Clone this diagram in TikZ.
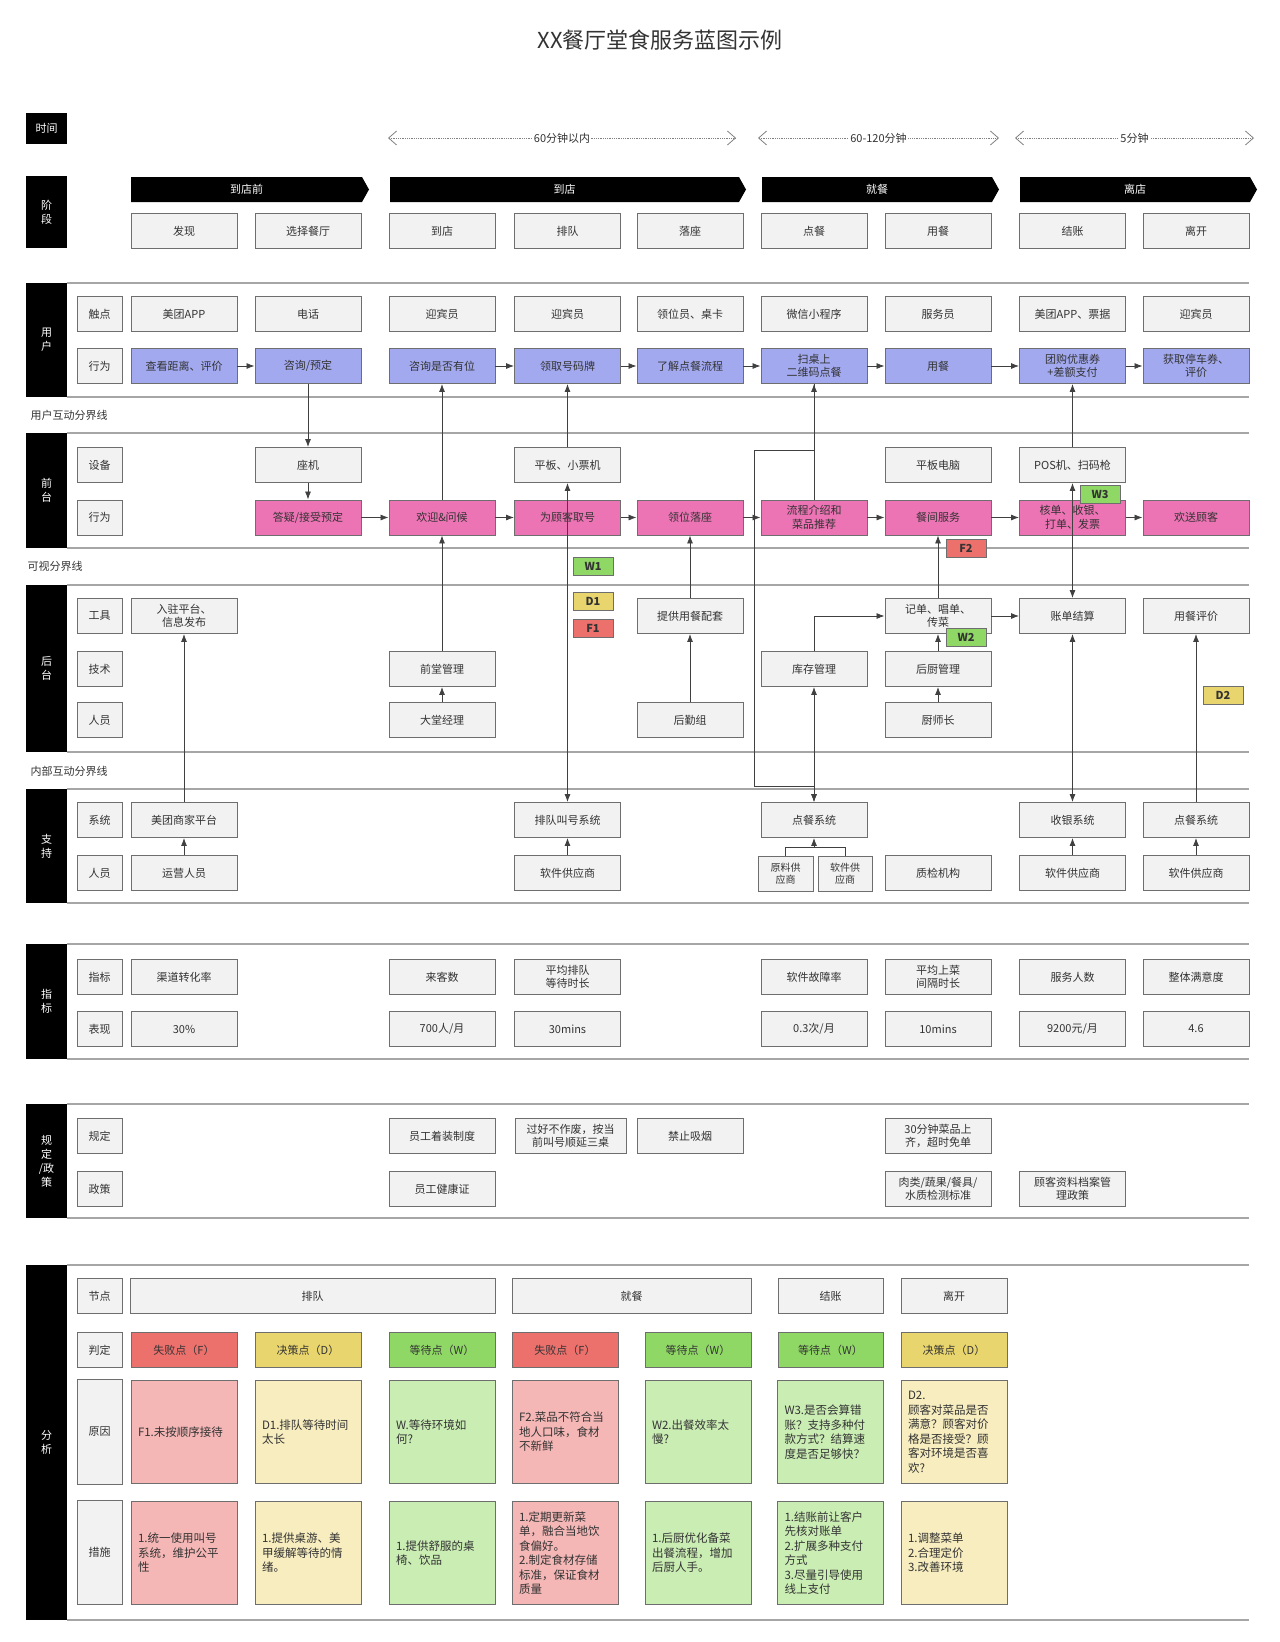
\documentclass[tikz,border=0pt]{standalone}
\usepackage{fontspec}
\setmainfont{Noto Sans CJK SC}
\usetikzlibrary{arrows.meta}
\definecolor{boxfill}{HTML}{F2F2F2}
\definecolor{boxline}{HTML}{6E6E6E}
\definecolor{txtc}{HTML}{333333}
\definecolor{userc}{HTML}{A2A9EF}
\definecolor{frontc}{HTML}{EC73B4}
\definecolor{failc}{HTML}{EC716D}
\definecolor{decc}{HTML}{E9D56E}
\definecolor{waitc}{HTML}{90D866}
\definecolor{failsoft}{HTML}{F4B7B6}
\definecolor{decsoft}{HTML}{F7EDBF}
\definecolor{waitsoft}{HTML}{CAEDB4}
\definecolor{bandc}{HTML}{A6A6A6}
\definecolor{arrowc}{HTML}{404040}
\begin{document}
\begin{tikzpicture}[x=1pt, y=-1pt,
    every node/.style = {text=txtc, font=\fontsize{11}{13.5}\selectfont},
    box/.style = {draw=boxline, fill=boxfill, line width=0.9pt, minimum width=106pt,
                  minimum height=35pt, inner sep=1pt, align=center},
    head/.style = {box, minimum width=45pt},
    userbox/.style = {box, fill=userc},
    frontbox/.style = {box, fill=frontc},
    smallbox/.style = {box, minimum width=54pt, font=\fontsize{10}{12}\selectfont},
    flag/.style = {draw=boxline, line width=0.9pt, minimum width=40pt, minimum height=18pt,
                   inner sep=0pt, font=\bfseries\fontsize{11}{13}\selectfont},
    note/.style = {box, minimum height=103pt, text width=92pt, align=left, inner xsep=7pt,
                   font=\fontsize{11.5}{14.5}\selectfont},
    barlabel/.style = {text=white, align=center, font=\fontsize{11}{14}\selectfont},
    bandline/.style = {draw=bandc, line width=1.5pt},
    arr/.style = {draw=arrowc, line width=0.8pt, -{Latex[length=8pt,width=6pt]}},
    darr/.style = {draw=arrowc, line width=0.8pt, {Latex[length=8pt,width=6pt]}-{Latex[length=8pt,width=6pt]}},
    timespan/.style = {draw=gray, densely dotted, line width=0.8pt,
                   {Straight Barb[length=8pt,width=14pt]}-{Straight Barb[length=8pt,width=14pt]}},
    spanlabel/.style = {fill=white, inner sep=1pt}
  ]
  \useasboundingbox (0,0) rectangle (1280,1642);

  % title
  \node[font=\fontsize{22}{26}\selectfont] (title) at (660,40) {XX餐厅堂食服务蓝图示例};

  % time
  \fill (26,113) rectangle (67,144);
  \node[barlabel] (bar-time) at (46.5,128.5) {时间};
  \coordinate (t1a) at (388,138);
  \coordinate (t1b) at (736,138);
  \coordinate (t2a) at (758,138);
  \coordinate (t2b) at (999,138);
  \coordinate (t3a) at (1015,138);
  \coordinate (t3b) at (1254,138);
  \draw[timespan] (t1a) -- node[spanlabel] (t1) {60分钟以内} (t1b);
  \draw[timespan] (t2a) -- node[spanlabel] (t2) {60-120分钟} (t2b);
  \draw[timespan] (t3a) -- node[spanlabel] (t3) {5分钟} (t3b);

  % stages
  \fill (26,176) rectangle (67,248);
  \node[barlabel] (bar-stage) at (46.5,212) {阶\\段};
  \foreach \xa/\xb/\lab/\nm in {131/369/到店前/pre, 390/746/到店/arrive, 762/999/就餐/dine, 1020/1257/离店/leave} {
    \fill (\xa,177) -- ({\xb-7},177) -- (\xb,189.5) -- ({\xb-7},202) -- (\xa,202) -- cycle;
    \node[barlabel] (ph-\nm) at ({(\xa+\xb-7)/2},189.5) {\lab};
  }
  \node[box] (st-1) at (184,231) {发现};
  \node[box] (st-2) at (308,231) {选择餐厅};
  \node[box] (st-3) at (442,231) {到店};
  \node[box] (st-4) at (567.5,231) {排队};
  \node[box] (st-5) at (690,231) {落座};
  \node[box] (st-6) at (814,231) {点餐};
  \node[box] (st-7) at (938,231) {用餐};
  \node[box] (st-8) at (1072.5,231) {结账};
  \node[box] (st-9) at (1196,231) {离开};

  % bands
  \foreach \ya/\yb/\lab/\nm in {283/397/{用\\户}/user, 433/548/{前\\台}/front, 585/752/{后\\台}/back,
      789/903/{支\\持}/support, 944/1059/{指\\标}/metric, 1104/1218/{规\\定\\/政\\策}/rule, 1265/1620/{分\\析}/analysis} {
    \fill (26,\ya) rectangle (67,\yb);
    \draw[bandline] (67,\ya) -- (1249,\ya) (67,\yb) -- (1249,\yb);
    \node[barlabel] (bar-\nm) at (46.5,{(\ya+\yb)/2}) {\lab};
  }
  \node[anchor=west] (line-user) at (27,415) {用户互动分界线};
  \node[anchor=west] (line-see) at (24,566) {可视分界线};
  \node[anchor=west] (line-inner) at (27,771) {内部互动分界线};

  % row heads
  \foreach \yy/\lab/\nm in {314/触点/touch, 366/行为/uact, 465/设备/dev, 517.5/行为/fact, 616/工具/tool,
      669/技术/tech, 720/人员/staff, 820/系统/sys, 873/人员/sstaff, 977/指标/kpi, 1029/表现/perf,
      1136/规定/rule, 1189/政策/policy, 1296/节点/node, 1350/判定/judge}
    \node[head] (h-\nm) at (99.5,\yy) {\lab};
  \node[head, minimum height=105pt] (h-cause) at (99.5,1432) {原因};
  \node[head, minimum height=104pt] (h-measure) at (99.5,1552) {措施};

  % user touchpoints
  \node[box] (ut-1) at (184,314) {美团APP};
  \node[box] (ut-2) at (308,314) {电话};
  \node[box] (ut-3) at (442,314) {迎宾员};
  \node[box] (ut-4) at (567.5,314) {迎宾员};
  \node[box] (ut-5) at (690,314) {领位员、桌卡};
  \node[box] (ut-6) at (814,314) {微信小程序};
  \node[box] (ut-7) at (938,314) {服务员};
  \node[box] (ut-8) at (1072.5,314) {美团APP、票据};
  \node[box] (ut-9) at (1196,314) {迎宾员};

  % user actions
  \node[userbox] (ua-chakan) at (184,366) {查看距离、评价};
  \node[userbox] (ua-zixun) at (308,366) {咨询/预定};
  \node[userbox] (ua-youwei) at (442,366) {咨询是否有位};
  \node[userbox] (ua-lingqu) at (567.5,366) {领取号码牌};
  \node[userbox] (ua-liaojie) at (690,366) {了解点餐流程};
  \node[userbox] (ua-saoma) at (814,366) {扫桌上\\二维码点餐};
  \node[userbox] (ua-yongcan) at (938,366) {用餐};
  \node[userbox] (ua-tuangou) at (1072.5,366) {团购优惠券\\+差额支付};
  \node[userbox] (ua-tingche) at (1196,366) {获取停车券、\\评价};

  % front devices
  \node[box] (fd-zuoji) at (308,465) {座机};
  \node[box] (fd-pingban) at (567.5,465) {平板、小票机};
  \node[box] (fd-diannao) at (938,465) {平板电脑};
  \node[box] (fd-pos) at (1072.5,465) {POS机、扫码枪};

  % front actions
  \node[frontbox] (fa-dayi) at (308,517.5) {答疑/接受预定};
  \node[frontbox] (fa-huanying) at (442,517.5) {欢迎\&问候};
  \node[frontbox] (fa-quhao) at (567.5,517.5) {为顾客取号};
  \node[frontbox] (fa-luozuo) at (690,517.5) {领位落座};
  \node[frontbox] (fa-liucheng) at (814,517.5) {流程介绍和\\菜品推荐};
  \node[frontbox] (fa-canjian) at (938,517.5) {餐间服务};
  \node[frontbox] (fa-hedan) at (1072.5,517.5) {核单、收银、\\打单、发票};
  \node[frontbox] (fa-huansong) at (1196,517.5) {欢送顾客};

  % backstage
  \node[box] (bk-ruzhu) at (184,616) {入驻平台、\\信息发布};
  \node[box] (bk-peitao) at (690,616) {提供用餐配套};
  \node[box] (bk-jidan) at (938,616) {记单、唱单、\\传菜};
  \node[box] (bk-zhangdan) at (1072.5,616) {账单结算};
  \node[box] (bk-pingjia) at (1196,616) {用餐评价};
  \node[box] (bk-qiantang) at (442,669) {前堂管理};
  \node[box] (bk-kucun) at (814,669) {库存管理};
  \node[box] (bk-houchu) at (938,669) {后厨管理};
  \node[box] (bk-datang) at (442,720) {大堂经理};
  \node[box] (bk-houqin) at (690,720) {后勤组};
  \node[box] (bk-chushi) at (938,720) {厨师长};

  % support
  \node[box] (sp-meituan) at (184,820) {美团商家平台};
  \node[box] (sp-paidui) at (567.5,820) {排队叫号系统};
  \node[box] (sp-diancan) at (814,820) {点餐系统};
  \node[box] (sp-shouyin) at (1072.5,820) {收银系统};
  \node[box] (sp-diancan9) at (1196,820) {点餐系统};
  \node[box] (sp-yunying) at (184,873) {运营人员};
  \node[box] (sp-soft4) at (567.5,873) {软件供应商};
  \node[smallbox, minimum width=55pt] (sp-yuanliao) at (785.5,873.5) {原料供\\应商};
  \node[smallbox] (sp-soft6) at (845,873.5) {软件供\\应商};
  \node[box] (sp-zhijian) at (938,873) {质检机构};
  \node[box] (sp-soft8) at (1072.5,873) {软件供应商};
  \node[box] (sp-soft9) at (1196,873) {软件供应商};

  % metrics
  \node[box] (km-1) at (184,977) {渠道转化率};
  \node[box] (km-3) at (442,977) {来客数};
  \node[box] (km-4) at (567.5,977) {平均排队\\等待时长};
  \node[box] (km-6) at (814,977) {软件故障率};
  \node[box] (km-7) at (938,977) {平均上菜\\间隔时长};
  \node[box] (km-8) at (1072.5,977) {服务人数};
  \node[box] (km-9) at (1196,977) {整体满意度};
  \node[box] (kv-1) at (184,1029) {30\%};
  \node[box] (kv-3) at (442,1029) {700人/月};
  \node[box] (kv-4) at (567.5,1029) {30mins};
  \node[box] (kv-6) at (814,1029) {0.3次/月};
  \node[box] (kv-7) at (938,1029) {10mins};
  \node[box] (kv-8) at (1072.5,1029) {9200元/月};
  \node[box] (kv-9) at (1196,1029) {4.6};

  % rules and policies
  \node[box] (rl-3) at (442,1136) {员工着装制度};
  \node[box, minimum width=111pt] (rl-4) at (570.5,1136) {过好不作废，按当\\前叫号顺延三桌};
  \node[box] (rl-5) at (690,1136) {禁止吸烟};
  \node[box] (rl-7) at (938,1136) {30分钟菜品上\\齐，超时免单};
  \node[box] (pl-3) at (442,1189) {员工健康证};
  \node[box] (pl-7) at (938,1189) {肉类/蔬果/餐具/\\水质检测标准};
  \node[box] (pl-8) at (1072.5,1189) {顾客资料档案管\\理政策};

  % analysis
  \node[box, minimum width=365pt] (an-paidui) at (312.5,1296) {排队};
  \node[box, minimum width=239pt] (an-jiucan) at (631.5,1296) {就餐};
  \node[box, minimum width=105pt] (an-jiezhang) at (830.5,1296) {结账};
  \node[box] (an-likai) at (954,1296) {离开};

  \node[box, fill=failc] (jd-1) at (184,1350) {失败点（F）};
  \node[box, fill=decc] (jd-2) at (308,1350) {决策点（D）};
  \node[box, fill=waitc] (jd-3) at (442,1350) {等待点（W）};
  \node[box, fill=failc] (jd-4) at (565,1350) {失败点（F）};
  \node[box, fill=waitc] (jd-5) at (698,1350) {等待点（W）};
  \node[box, fill=waitc, minimum width=105pt] (jd-6) at (830.5,1350) {等待点（W）};
  \node[box, fill=decc] (jd-7) at (954,1350) {决策点（D）};

  \node[note, fill=failsoft] (cs-1) at (184,1432) {F1.未按顺序接待};
  \node[note, fill=decsoft] (cs-2) at (308,1432) {D1.排队等待时间\\太长};
  \node[note, fill=waitsoft] (cs-3) at (442,1432) {W.等待环境如\\何?};
  \node[note, fill=failsoft] (cs-4) at (565,1432) {F2.菜品不符合当\\地人口味，食材\\不新鲜};
  \node[note, fill=waitsoft] (cs-5) at (698,1432) {W2.出餐效率太\\慢?};
  \node[note, fill=waitsoft] (cs-6) at (830.5,1432) {W3.是否会算错\\账？支持多种付\\款方式？结算速\\度是否足够快？};
  \node[note, fill=decsoft] (cs-7) at (954,1432) {D2.\\顾客对菜品是否\\满意？顾客对价\\格是否接受？顾\\客对环境是否喜\\欢?};

  \node[note, fill=failsoft] (ms-1) at (184,1553) {1.统一使用叫号\\系统，维护公平\\性};
  \node[note, fill=decsoft] (ms-2) at (308,1553) {1.提供桌游、美\\甲缓解等待的情\\绪。};
  \node[note, fill=waitsoft] (ms-3) at (442,1553) {1.提供舒服的桌\\椅、饮品};
  \node[note, fill=failsoft] (ms-4) at (565,1553) {1.定期更新菜\\单，融合当地饮\\食偏好。\\2.制定食材存储\\标准，保证食材\\质量};
  \node[note, fill=waitsoft] (ms-5) at (698,1553) {1.后厨优化备菜\\出餐流程，增加\\后厨人手。};
  \node[note, fill=waitsoft] (ms-6) at (830.5,1553) {1.结账前让客户\\先核对账单\\2.扩展多种支付\\方式\\3.尽量引导使用\\线上支付};
  \node[note, fill=decsoft] (ms-7) at (954,1553) {1.调整菜单\\2.合理定价\\3.改善环境};

  % flow along the action rows
  \draw[arr] (ua-chakan) -- (ua-zixun);
  \foreach \a/\b in {ua-youwei/ua-lingqu, ua-lingqu/ua-liaojie, ua-liaojie/ua-saoma, ua-saoma/ua-yongcan,
      ua-yongcan/ua-tuangou, ua-tuangou/ua-tingche,
      fa-dayi/fa-huanying, fa-huanying/fa-quhao, fa-quhao/fa-luozuo, fa-luozuo/fa-liucheng,
      fa-liucheng/fa-canjian, fa-canjian/fa-hedan, fa-hedan/fa-huansong}
    \draw[arr] (\a) -- (\b);

  % vertical links
  \draw[arr] (ua-zixun) -- (fd-zuoji);
  \draw[arr] (fd-zuoji) -- (fa-dayi);
  \draw[arr] (fa-huanying) -- (ua-youwei);
  \draw[arr] (bk-qiantang) -- (fa-huanying);
  \draw[arr] (bk-datang) -- (bk-qiantang);
  \draw[arr] (fd-pingban) -- (ua-lingqu);
  \draw[darr] (fd-pingban.south) -- (sp-paidui.north);
  \draw[arr] (sp-soft4) -- (sp-paidui);
  \draw[arr] (bk-peitao) -- (fa-luozuo);
  \draw[arr] (bk-houqin) -- (bk-peitao);
  \draw[arr] (fa-liucheng) -- (ua-saoma);
  \coordinate (bendA) at (754,450);
  \coordinate (bendB) at (754,786);
  \draw[arr] (ua-saoma.south) |- (bendA) -- (bendB) -| (sp-diancan.north);
  \draw[darr] (bk-kucun) -- (sp-diancan);
  \draw[arr] (bk-kucun.north) |- (bk-jidan.west);
  \coordinate (supjoin) at (814,847);
  \draw[draw=arrowc, line width=0.8pt] (sp-yuanliao.north) |- (supjoin) -| (sp-soft6.north);
  \draw[arr] (supjoin) -- (sp-diancan.south);
  \draw[arr] (bk-jidan) -- (fa-canjian);
  \draw[arr] (bk-houchu) -- (bk-jidan);
  \draw[arr] (bk-chushi) -- (bk-houchu);
  \draw[arr] (bk-jidan) -- (bk-zhangdan);
  \draw[arr] (fd-pos) -- (ua-tuangou);
  \draw[darr] (fd-pos.south) -- (bk-zhangdan.north);
  \draw[darr] (sp-shouyin) -- (bk-zhangdan);
  \draw[arr] (sp-soft8) -- (sp-shouyin);
  \draw[arr] (sp-diancan9) -- (bk-pingjia);
  \draw[arr] (sp-soft9) -- (sp-diancan9);
  \draw[arr] (sp-meituan) -- (bk-ruzhu);
  \draw[arr] (sp-yunying) -- (sp-meituan);

  % point markers
  \node[flag, fill=waitc] (mk-w1) at (593,566) {W1};
  \node[flag, fill=decc] (mk-d1) at (593,601) {D1};
  \node[flag, fill=failc] (mk-f1) at (593,628) {F1};
  \node[flag, fill=failc] (mk-f2) at (966,548) {F2};
  \node[flag, fill=waitc] (mk-w2) at (966,637) {W2};
  \node[flag, fill=waitc] (mk-w3) at (1100,494.5) {W3};
  \node[flag, fill=decc] (mk-d2) at (1223,695) {D2};
\end{tikzpicture}
\end{document}
